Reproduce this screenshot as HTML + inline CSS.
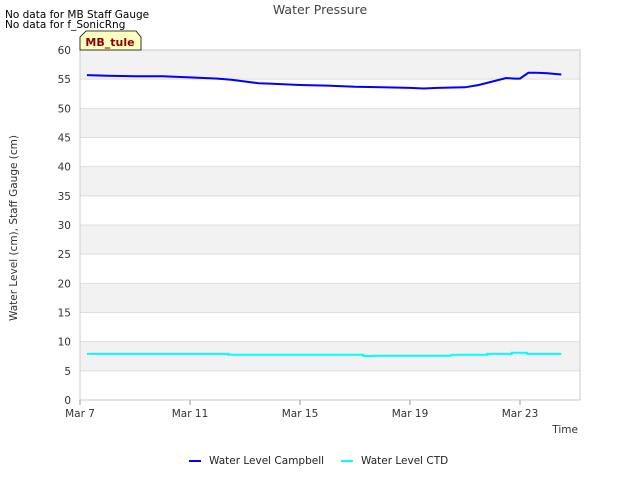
<!DOCTYPE html>
<html><head><meta charset="utf-8"><style>
body{margin:0;background:#fff;font-family:"Liberation Sans","DejaVu Sans",sans-serif}
</style></head><body>
<svg id="c" width="640" height="480" xmlns="http://www.w3.org/2000/svg" font-family="DejaVu Sans, Liberation Sans, sans-serif">
<text x="320" y="14" text-anchor="middle" font-size="12.5" fill="#444">Water Pressure</text>
<text x="5" y="18" font-size="10.5" fill="#000">No data for MB Staff Gauge</text>
<text x="5" y="28" font-size="10.5" fill="#000">No data for f_SonicRng</text>
<g id="grid"></g>
<rect x="80" y="50" width="500" height="350" fill="none" stroke="#ccc"/>
<g id="axes"></g>
<g id="series"></g>
<path d="M80,50 L80,37 L86,31 L136,31 L141,37 L141,50 Z" fill="#ffffc0" stroke="#000" stroke-width="0.8"/>
<text x="110" y="46" text-anchor="middle" font-size="11" font-weight="bold" fill="#8b0000">MB_tule</text>
<text x="17" y="228" transform="rotate(-90 17 228)" text-anchor="middle" font-size="10.5" fill="#333">Water Level (cm), Staff Gauge (cm)</text>
<text x="578" y="433" text-anchor="end" font-size="10.5" fill="#333">Time</text>
<line x1="189" y1="461" x2="201" y2="461" stroke="#0000ff" stroke-width="2"/>
<text x="209" y="464" font-size="10.5" fill="#222">Water Level Campbell</text>
<line x1="341" y1="461" x2="353" y2="461" stroke="#00ffff" stroke-width="2"/>
<text x="361" y="464" font-size="10.5" fill="#222">Water Level CTD</text>
</svg>
<script>
const yTicks=[0,5,10,15,20,25,30,35,40,45,50,55,60];
const xTickDays=[0,4,8,12,16];
const xTickLabels=["Mar 7","Mar 11","Mar 15","Mar 19","Mar 23"];
const campbellDays=[0.25,1,2,3,4,5,5.5,6,6.5,7,8,9,10,11,12,12.5,13,14,14.5,15,15.5,15.8,16,16.3,16.6,17,17.5];
const campbellVals=[55.7,55.6,55.5,55.5,55.3,55.1,54.9,54.6,54.3,54.2,54.0,53.9,53.7,53.6,53.5,53.4,53.5,53.6,54.0,54.6,55.2,55.1,55.1,56.1,56.1,56.0,55.8];
const ctdDays=[0.25,5.4,5.4,10.3,10.3,10.7,10.7,13.5,13.5,14.8,14.8,15.7,15.7,16.25,16.25,17.5];
const ctdVals=[7.9,7.9,7.75,7.75,7.55,7.55,7.6,7.6,7.75,7.75,7.9,7.9,8.1,8.1,7.9,7.9];
const NS="http://www.w3.org/2000/svg";
const X=d=>80+d*27.5, Y=v=>400-v*350/60;
function mk(t,a,p){const e=document.createElementNS(NS,t);for(const k in a)e.setAttribute(k,a[k]);p.appendChild(e);return e;}
const grid=document.getElementById('grid'),axes=document.getElementById('axes'),ser=document.getElementById('series');
for(let i=0;i<yTicks.length-1;i++){
  if(i%2===1){const r=mk('rect',{x:80,y:Y(yTicks[i+1]),width:500,height:Y(yTicks[i])-Y(yTicks[i+1]),fill:'#f2f2f2'},grid);
  
  }
}
yTicks.forEach(v=>{
  const l=mk('line',{x1:80,x2:580,y1:Y(v),y2:Y(v),stroke:'#ddd'},grid);
  
  
  const t=mk('text',{x:71,y:Y(v)+4,'text-anchor':'end','font-size':10.5,fill:'#333'},axes);
  t.textContent=v;
  
  
});
xTickDays.forEach((d,i)=>{
  const l=mk('line',{x1:X(d),x2:X(d),y1:400,y2:405,stroke:'#999'},axes);
  
  
  const t=mk('text',{x:X(d),y:417,'text-anchor':'middle','font-size':10.5,fill:'#333'},axes);
  t.textContent=xTickLabels[i];
  
  
});
function line(days,vals,col,name){
  let d='';days.forEach((x,i)=>{d+=(i?'L':'M')+X(x).toFixed(1)+','+Y(vals[i]).toFixed(1);});
  const p=mk('path',{d:d,fill:'none',stroke:col,'stroke-width':2},ser);
  
  
}
line(campbellDays,campbellVals,'#0000ff','series-campbell');
line(ctdDays,ctdVals,'#00ffff','series-ctd');
</script>
</body></html>
